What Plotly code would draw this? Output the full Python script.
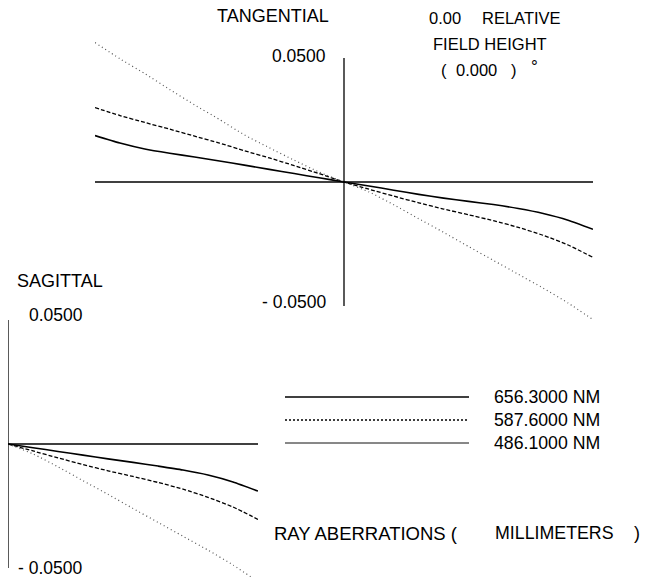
import plotly.graph_objects as go

# ---------------- data ----------------
wavelengths = ["656.3000 NM", "587.6000 NM", "486.1000 NM"]

# Tangential fan: relative pupil coordinate -1 .. 1
tan_pupil = [-1.0, -0.9, -0.8, -0.7, -0.6, -0.5, -0.4, -0.3, -0.2, -0.1, 0.0,
             0.1, 0.2, 0.3, 0.4, 0.5, 0.6, 0.7, 0.8, 0.9, 1.0]
tan_656 = [0.0187, 0.0157, 0.0133, 0.0116, 0.0101, 0.0085, 0.0068, 0.0051, 0.0034, 0.0017, 0.0,
           -0.0016, -0.0033, -0.0050, -0.0065, -0.0078, -0.0091, -0.0107, -0.0127, -0.0154, -0.0191]
tan_588 = [0.0300, 0.0268, 0.0240, 0.0213, 0.0185, 0.0157, 0.0126, 0.0097, 0.0066, 0.0034, 0.0,
           -0.0029, -0.0057, -0.0084, -0.0109, -0.0132, -0.0156, -0.0183, -0.0215, -0.0254, -0.0304]
tan_486 = [0.0562, 0.0497, 0.0437, 0.0373, 0.0311, 0.0252, 0.0190, 0.0138, 0.0088, 0.0040, 0.0,
           -0.0040, -0.0092, -0.0148, -0.0203, -0.0260, -0.0316, -0.0372, -0.0428, -0.0488, -0.0555]

# Sagittal fan: relative pupil coordinate 0 .. 1
sag_pupil = [0.0, 0.1, 0.2, 0.3, 0.4, 0.5, 0.6, 0.7, 0.8, 0.9, 1.0]
sag_656 = [0.0, -0.0015, -0.0030, -0.0045, -0.0060, -0.0074, -0.0089, -0.0105, -0.0125, -0.0153, -0.0190]
sag_588 = [0.0, -0.0028, -0.0056, -0.0083, -0.0108, -0.0131, -0.0155, -0.0182, -0.0215, -0.0254, -0.0304]
sag_486 = [0.0, -0.0040, -0.0092, -0.0148, -0.0203, -0.0260, -0.0316, -0.0372, -0.0428, -0.0488, -0.0555]

axis_limit = 0.05
axis_label_top = "0.0500"
axis_label_bottom = "- 0.0500"

# ---------------- layout helpers ----------------
W, H = 658, 577
def px(x):
    return x / W
def py(y):
    return 1 - y / H

FONT = "Liberation Sans, Arial, sans-serif"
styles = [
    dict(color="black", width=1.6, dash="solid", shape="spline", smoothing=0.6),
    dict(color="black", width=1.3, dash="4px,2px", shape="spline", smoothing=0.6),
    dict(color="#555555", width=1.2, dash="1px,3px", shape="spline", smoothing=0.6),
]

fig = go.Figure()
for vals, st, name in zip([tan_656, tan_588, tan_486], styles, wavelengths):
    fig.add_trace(go.Scatter(x=tan_pupil, y=vals, mode="lines", line=st,
                             name=name, showlegend=False, xaxis="x", yaxis="y"))
for vals, st, name in zip([sag_656, sag_588, sag_486], styles, wavelengths):
    fig.add_trace(go.Scatter(x=sag_pupil, y=vals, mode="lines", line=st,
                             name=name, showlegend=False, xaxis="x2", yaxis="y2"))

scale = 124 / axis_limit  # pixels per mm
tan_c = 182
sag_c = 444
tan_top = tan_c - 0.06 * scale
tan_bot = tan_c + 0.06 * scale
sag_top = sag_c - 0.06 * scale
sag_lo = -(H - sag_c) / scale

ax_common = dict(visible=False, showgrid=False, zeroline=False, fixedrange=True)
fig.update_layout(
    width=W, height=H, autosize=False,
    margin=dict(l=0, r=0, t=0, b=0),
    paper_bgcolor="white", plot_bgcolor="white",
    xaxis=dict(domain=[px(95), px(593)], range=[-1, 1], anchor="y", **ax_common),
    yaxis=dict(domain=[py(tan_bot), py(tan_top)], range=[-0.06, 0.06], anchor="x", **ax_common),
    xaxis2=dict(domain=[px(8), px(258)], range=[0, 1], anchor="y2", **ax_common),
    yaxis2=dict(domain=[0, py(sag_top)], range=[sag_lo, 0.06], anchor="x2", **ax_common),
)

axline = dict(color="black", width=1.3)
shapes = [
    dict(type="line", xref="x", yref="y", x0=-1, x1=1, y0=0, y1=0, line=axline),
    dict(type="line", xref="x", yref="y", x0=0, x1=0, y0=-axis_limit, y1=axis_limit, line=axline),
    dict(type="line", xref="x2", yref="y2", x0=0, x1=1, y0=0, y1=0, line=axline),
    dict(type="line", xref="x2", yref="y2", x0=0, x1=0, y0=-axis_limit, y1=axis_limit, line=axline),
]
legend_styles = [
    dict(color="black", width=1.6),
    dict(color="black", width=1.3, dash="2px,2px"),
    dict(color="#111111", width=1.0),
]
legend_y = [397, 420, 443]
for ly, st in zip(legend_y, legend_styles):
    shapes.append(dict(type="line", xref="paper", yref="paper",
                       x0=px(285), x1=px(469), y0=py(ly), y1=py(ly), line=st))
fig.update_layout(shapes=shapes)

def ann(text, x, y, xanchor="left", size=18):
    return dict(text=text, x=px(x), y=py(y), xref="paper", yref="paper",
                xanchor=xanchor, yanchor="middle", showarrow=False,
                font=dict(family=FONT, size=size, color="black"))

annotations = [
    ann("TANGENTIAL", 273, 16, "center", 18),
    ann(axis_label_top, 328, 56, "right", 17.5),
    ann(axis_label_bottom, 328, 302, "right", 17.5),
    ann("0.00", 445, 18, "center", 16.5),
    ann("RELATIVE", 480, 18, "left", 16.5),
    ann("FIELD HEIGHT", 490, 44, "center", 16.5),
    ann("(", 444, 70, "center", 16.5),
    ann("0.000", 476, 70, "center", 16.5),
    ann(")", 514, 70, "center", 16.5),
    ann("°", 534, 66, "center", 17),
    ann("SAGITTAL", 15, 281, "left", 18),
    ann(axis_label_top, 85, 315, "right", 17.5),
    ann(axis_label_bottom, 84, 568, "right", 17.5),
    ann("RAY ABERRATIONS (", 272, 533, "left", 18.5),
    ann("MILLIMETERS", 493, 533, "left", 17.8),
    ann(")", 637, 533, "center", 18),
]
for ly, name in zip(legend_y, wavelengths):
    annotations.append(ann(name, 492, ly, "left", 17.7))
fig.update_layout(annotations=annotations)

fig.write_html("out.html", config={"displayModeBar": False},
               post_script="document.body.style.margin='0px';")
